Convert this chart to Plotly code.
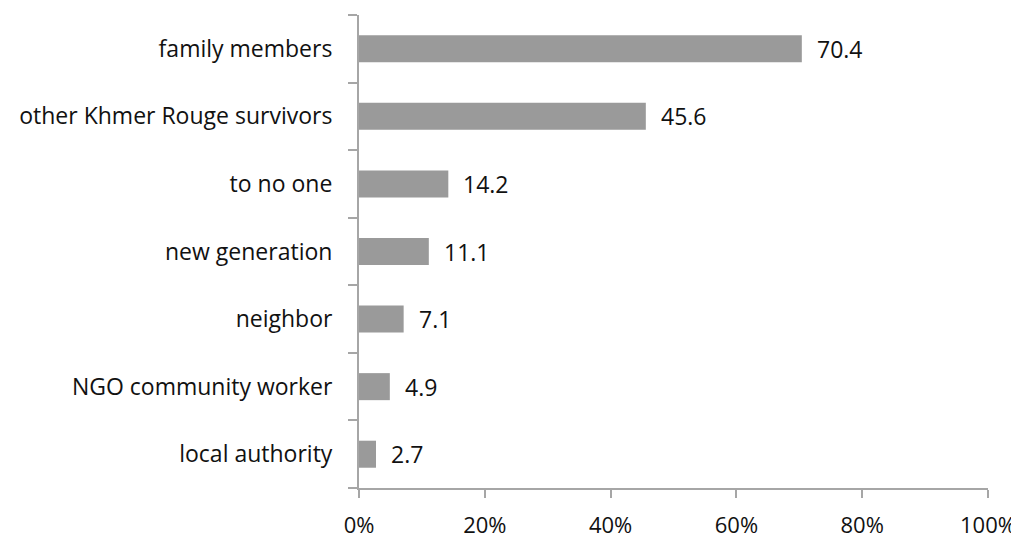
import plotly.graph_objects as go

categories = ["local authority", "NGO community worker", "neighbor", "new generation",
              "to no one", "other Khmer Rouge survivors", "family members"]
values = [2.7, 4.9, 7.1, 11.1, 14.2, 45.6, 70.4]
x_ticks = [0, 20, 40, 60, 80, 100]
x_tick_labels = ["0%", "20%", "40%", "60%", "80%", "100%"]

FONT = "Open Sans"
AX = "#a6a6a6"
FS = 23

fig = go.Figure(go.Bar(
    x=values, y=categories, orientation="h",
    marker=dict(color="#9a9a9a", line=dict(width=0)),
    hoverinfo="skip",
))

for v, c in zip(values, categories):
    fig.add_annotation(x=v, y=c, text=f"{v:.1f}", showarrow=False,
                       xanchor="left", xshift=13,
                       font=dict(family=FONT, size=FS, color="#111111"))

fig.update_layout(
    width=1019, height=538,
    margin=dict(l=351, r=39, t=7, b=58),
    plot_bgcolor="white", paper_bgcolor="white",
    bargap=0.6, showlegend=False,
    font=dict(family=FONT, size=FS, color="#111111"),
)
fig.update_xaxes(range=[0, 100], tickvals=x_ticks, ticktext=x_tick_labels,
                 automargin=False,
                 showgrid=False, zeroline=False, showline=True, linecolor=AX, linewidth=2,
                 ticks="outside", ticklen=8, tickcolor=AX, tickwidth=2,
                 ticklabelstandoff=9,
                 tickfont=dict(family=FONT, size=22, color="#111111"))
fig.update_yaxes(automargin=False,
                 showgrid=False, zeroline=False, showline=True, linecolor=AX, linewidth=2,
                 ticks="outside", tickson="boundaries", ticklen=9, tickcolor=AX, tickwidth=2,
                 ticklabelstandoff=20,
                 tickfont=dict(family=FONT, size=FS, color="#111111"))

fig.write_html("out.html")
